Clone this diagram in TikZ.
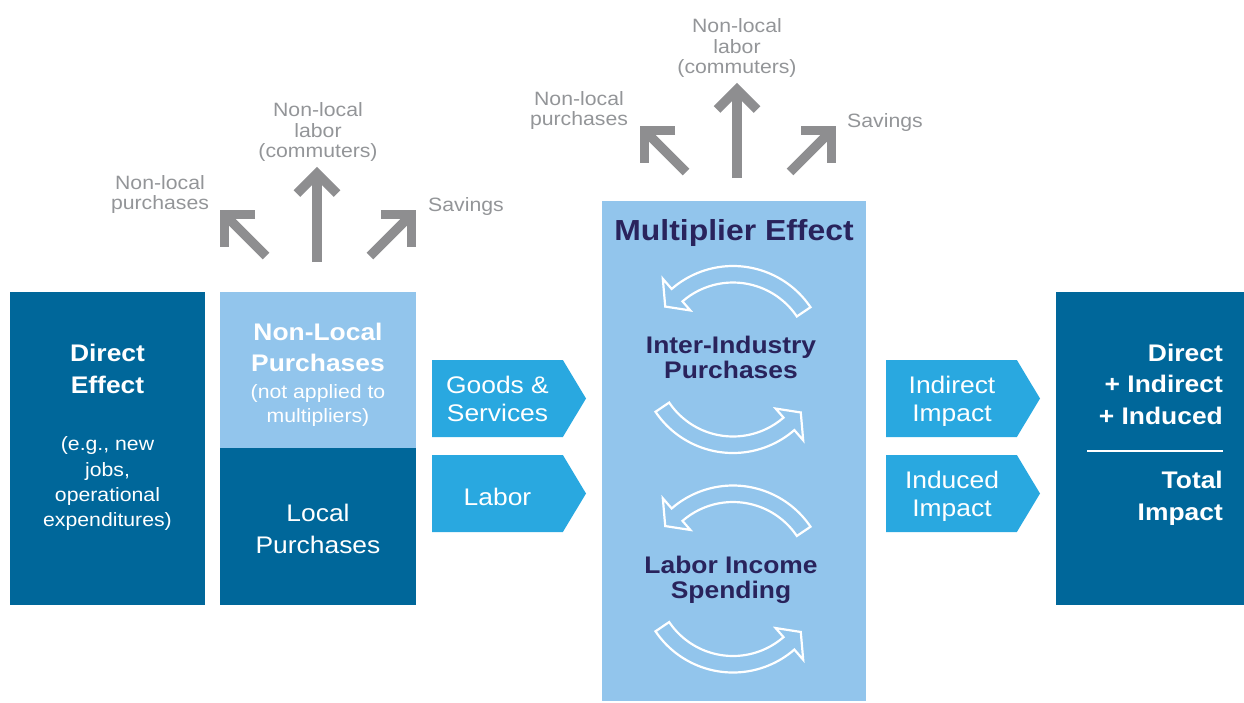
\documentclass[tikz,border=0pt]{standalone}
\usepackage{fontspec}
\setmainfont{Liberation Sans}[FakeStretch=1.1]
\usetikzlibrary{shapes.symbols}
\definecolor{dblue}{HTML}{00679A}
\definecolor{lblue}{HTML}{92C5EC}
\definecolor{cyanb}{HTML}{29A8E0}
\definecolor{navy}{HTML}{29235C}
\definecolor{garrow}{HTML}{8E8E90}
\definecolor{gtext}{HTML}{939598}
\newcommand\fsz[2]{\fontsize{#1}{#2}\selectfont}
\tikzset{
  boxbase/.style={inner sep=0pt, outer sep=0pt, anchor=north west, draw=none},
  darkbox/.style={boxbase, fill=dblue},
  lightbox/.style={boxbase, fill=lblue},
  penta/.style={signal, signal to=east, signal from=nowhere, signal pointer angle=118,
    fill=cyanb, draw=none, inner sep=0pt, outer sep=0pt, minimum width=154pt, minimum height=77pt, anchor=west},
  wtxt/.style={inner sep=0pt, align=center, anchor=base, text=white},
  ntxt/.style={inner sep=0pt, align=center, anchor=base, text=navy},
  gtxt/.style={inner sep=0pt, align=center, anchor=base, text=gtext, font=\fsz{19.3}{20.5}},
  grayline/.style={draw=garrow, line width=9.5pt, line cap=butt, miter limit=10},
  cycline/.style={draw=white, line width=2.2pt, line join=miter},
  cyc/.pic={
    \draw[cycline] (34:93.5) arc[start angle=34, end angle=131, radius=93.5]
      -- (131:107) -- (142:86) -- (131:65) -- (131:77)
      arc[start angle=131, end angle=34, radius=77] -- cycle;
  },
  outarrows/.pic={
    \draw[grayline] (0,0) -- (0,-86);
    \draw[grayline, line join=miter] (-20,-68.5) -- (0,-88.5) -- (20,-68.5);
    \draw[grayline] (-51,-6) -- (-91,-46);
    \draw[grayline, line join=miter] (-62,-47.5) -- (-92.5,-47.5) -- (-92.5,-15);
    \draw[grayline] (53,-6) -- (93,-46);
    \draw[grayline, line join=miter] (64,-47.5) -- (94.5,-47.5) -- (94.5,-15);
  }
}
\begin{document}
\begin{tikzpicture}[x=1pt, y=-1pt]
\useasboundingbox (0,0) rectangle (1244,702);

% boxes
\node[darkbox, minimum width=195pt, minimum height=313pt] (direct) at (10,292) {};
\node[lightbox, minimum width=196pt, minimum height=156pt] (nonlocal) at (220,292) {};
\node[darkbox, minimum width=196pt, minimum height=157pt] (local) at (220,448) {};
\node[lightbox, minimum width=264pt, minimum height=500pt] (mult) at (602,201) {};
\node[darkbox, minimum width=188pt, minimum height=313pt] (total) at (1056,292) {};

% pentagon arrows
\node[penta] (goods) at (432,398.5) {};
\node[penta] (labor) at (432,493.5) {};
\node[penta] (indirect) at (886,398.5) {};
\node[penta] (induced) at (886,493.5) {};

% texts in boxes (anchor = baseline of last line)
\node[wtxt, font=\bfseries\fsz{24}{31.5}] (directT) at (107.5,393) {Direct\\Effect};
\node[wtxt, font=\fsz{19.3}{25.3}] (directS) at (107.5,526.7) {(e.g., new\\jobs,\\operational\\expenditures)};
\node[wtxt, font=\bfseries\fsz{24}{31.7}] (nlT) at (318,371.7) {Non-Local\\Purchases};
\node[wtxt, font=\fsz{19.3}{24.4}] (nlS) at (318,422.7) {(not applied to\\multipliers)};
\node[wtxt, font=\fsz{24}{31.6}] (localT) at (318,553.3) {Local\\Purchases};
\node[wtxt, font=\fsz{24}{28.4}] (goodsT) at (497.5,421.7) {Goods \&\\Services};
\node[wtxt, font=\fsz{24}{28.4}] (laborT) at (497.5,505) {Labor};
\node[wtxt, font=\fsz{24}{28.4}] (indirectT) at (952,421.7) {Indirect\\Impact};
\node[wtxt, font=\fsz{24}{28.4}] (inducedT) at (952,516.7) {Induced\\Impact};
\node[ntxt, font=\bfseries\fsz{29}{30}] (multT) at (734,240.7) {Multiplier Effect};
\node[ntxt, font=\bfseries\fsz{24}{25}] (interT) at (731,378.3) {Inter-Industry\\Purchases};
\node[ntxt, font=\bfseries\fsz{24}{25}] (laborincT) at (731,598.3) {Labor Income\\Spending};
\node[wtxt, align=right, anchor=base east, font=\bfseries\fsz{24}{31.65}] (sumT) at (1223,424.3) {Direct\\+ Indirect\\+ Induced};
\node[wtxt, align=right, anchor=base east, font=\bfseries\fsz{24}{31.7}] (totalT) at (1223,520) {Total\\Impact};
\coordinate (ruleL) at (1087,451);
\coordinate (ruleR) at (1223,451);
\draw[white, line width=2.5pt] (ruleL) -- (ruleR);

% cycle arrows
\begin{scope}[shift={(733,359.5)}]
  \pic[yscale=-1] {cyc};
  \pic[yscale=-1, rotate=180] {cyc};
\end{scope}
\begin{scope}[shift={(733,579)}]
  \pic[yscale=-1] {cyc};
  \pic[yscale=-1, rotate=180] {cyc};
\end{scope}

% outgoing gray arrows
\pic at (317,262) {outarrows};
\pic at (737,178) {outarrows};

% gray labels
\node[gtxt] (nlp1) at (160,209.5) {Non-local\\purchases};
\node[gtxt] (nll1) at (318,157.5) {Non-local\\labor\\(commuters)};
\node[gtxt] (sav1) at (466,211.5) {Savings};
\node[gtxt] (nlp2) at (579,125.5) {Non-local\\purchases};
\node[gtxt] (nll2) at (737,73.5) {Non-local\\labor\\(commuters)};
\node[gtxt] (sav2) at (885,127.5) {Savings};
\end{tikzpicture}
\end{document}
